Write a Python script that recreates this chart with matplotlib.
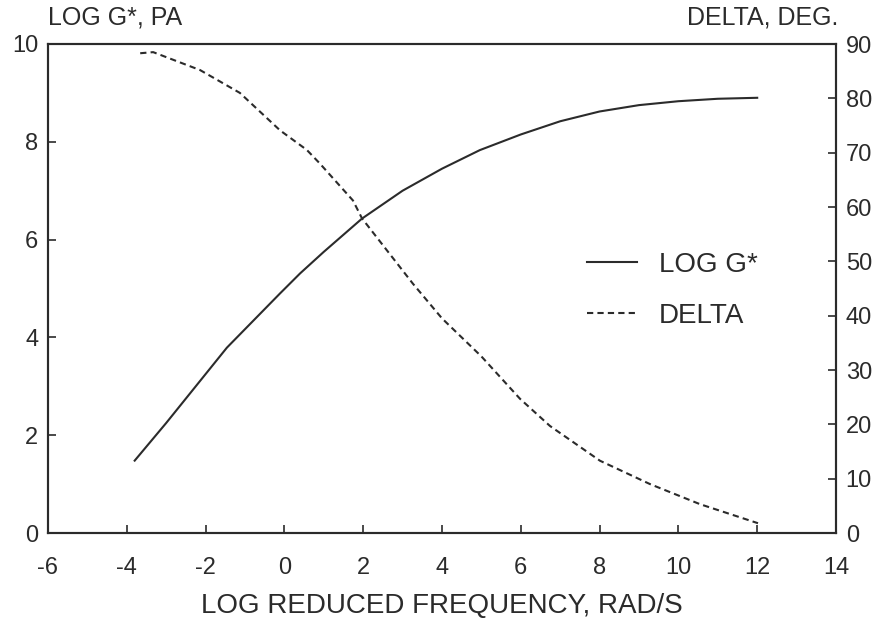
import matplotlib
matplotlib.use("Agg")
import matplotlib.pyplot as plt

plt.rcParams["font.family"] = ["Liberation Sans", "DejaVu Sans"]
plt.rcParams["axes.unicode_minus"] = False

# LOG G* master curve (left axis)
g_freq = [-3.8, -3.0, -2.0, -1.46, -0.11, 0.4, 1.0, 1.97, 3.0, 4.0, 4.96, 6.0, 7.0, 8.0, 9.0, 10.0, 11.0, 12.0]
g_log = [1.48, 2.25, 3.25, 3.79, 4.90, 5.31, 5.75, 6.43, 7.0, 7.45, 7.83, 8.15, 8.42, 8.62, 8.75, 8.83, 8.88, 8.9]

# phase angle (right axis)
d_freq = [-3.66, -3.33, -2.14, -1.13, -0.11, 0.57, 0.9, 1.74, 1.97, 3.26, 4.0, 5.0, 5.98, 6.74, 8.01, 9.28, 10.55, 12.02]
d_deg = [88.3, 88.5, 85.2, 81.0, 74.1, 70.5, 68.0, 61.2, 57.9, 45.9, 39.5, 32.5, 24.7, 19.7, 13.3, 9.0, 5.3, 1.8]

x_ticks = list(range(-6, 15, 2))
left_ticks = list(range(0, 11, 2))
right_ticks = list(range(0, 91, 10))

ink = "#2b2b2b"

fig = plt.figure(figsize=(8.85, 6.21), dpi=100)
ax = fig.add_axes([48 / 885, 1 - 533 / 621, (836 - 48) / 885, (533 - 44) / 621])
ax2 = ax.twinx()

(l1,) = ax.plot(g_freq, g_log, color=ink, lw=1.5, label="LOG G*")
(l2,) = ax2.plot(d_freq, d_deg, color=ink, lw=1.5, ls=(0, (3, 2)), label="DELTA")

ax.set_xlim(-6, 14)
ax.set_ylim(0, 10)
ax2.set_ylim(0, 90)
ax.set_xticks(x_ticks)
ax.set_yticks(left_ticks)
ax2.set_yticks(right_ticks)

for a in (ax, ax2):
    for s in a.spines.values():
        s.set_color(ink)
        s.set_linewidth(1.5)
    a.tick_params(direction="in", length=6, width=1.2, color=ink,
                  labelsize=17, labelcolor=ink, pad=7)
ax.tick_params(axis="x", pad=17)

ax.set_xlabel("LOG REDUCED FREQUENCY, RAD/S", fontsize=20, color=ink, labelpad=10)
fig.text(48 / 885, 1 - 18 / 621, "LOG G*, PA", fontsize=18, color=ink, ha="left", va="center")
fig.text(838 / 885, 1 - 18 / 621, "DELTA, DEG.", fontsize=18, color=ink, ha="right", va="center")

ax2.legend(handles=[l1, l2], loc="center left", bbox_to_anchor=(0.684, 0.496),
           frameon=False, fontsize=20, handlelength=1.8, handletextpad=0.8,
           labelspacing=0.9, borderpad=0, borderaxespad=0, labelcolor=ink)

fig.savefig("out.png", dpi=100, facecolor="white")
